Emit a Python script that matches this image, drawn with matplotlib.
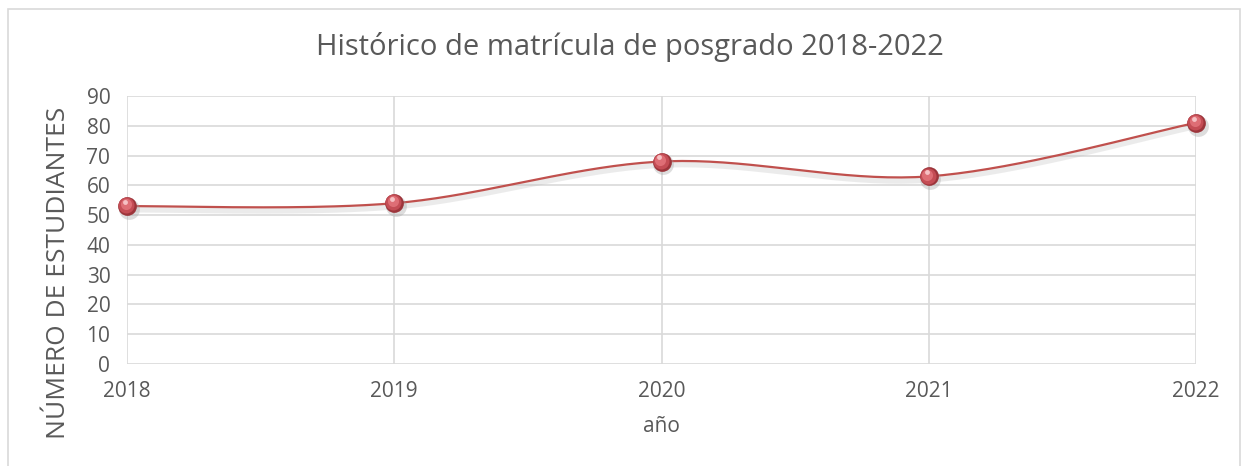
import matplotlib.pyplot as plt
from matplotlib.patches import Rectangle
import numpy as np

# Data
years = [2018, 2019, 2020, 2021, 2022]
students = [53, 54, 68, 63, 81]
y_ticks = list(range(0, 100, 10))

title = 'Histórico de matrícula de posgrado 2018-2022'
x_label = 'año'
y_label = 'NÚMERO DE ESTUDIANTES'

text_color = '#595959'
grid_color = '#d9d9d9'
line_color = '#c0504d'


def smooth(xs, ys, n=40):
    # Catmull-Rom style smoothing, similar to Excel's smoothed line
    xs = np.asarray(xs, float)
    ys = np.asarray(ys, float)
    px = np.concatenate([[xs[0]], xs, [xs[-1]]])
    py = np.concatenate([[ys[0]], ys, [ys[-1]]])
    out_x, out_y = [], []
    t = np.linspace(0, 1, n)
    for i in range(1, len(px) - 2):
        p0, p1, p2, p3 = (np.array([px[j], py[j]]) for j in (i - 1, i, i + 1, i + 2))
        c1 = p1 + (p2 - p0) / 6
        c2 = p2 - (p3 - p1) / 6
        pts = ((1 - t) ** 3)[:, None] * p1 + (3 * (1 - t) ** 2 * t)[:, None] * c1 \
            + (3 * (1 - t) * t ** 2)[:, None] * c2 + (t ** 3)[:, None] * p2
        out_x.extend(pts[:, 0])
        out_y.extend(pts[:, 1])
    return np.array(out_x), np.array(out_y)


plt.rcParams['font.family'] = ['Open Sans', 'DejaVu Sans']

fig = plt.figure(figsize=(12.49, 4.66), dpi=100)
fig.patches.append(Rectangle((8 / 1249, -0.05), 1232 / 1249, 1 - 9 / 466 + 0.05,
                             transform=fig.transFigure, fill=False,
                             edgecolor=grid_color, linewidth=1.2))

ax = fig.add_axes([127 / 1249, 1 - 364 / 466, (1196 - 127) / 1249, (364 - 96) / 466])

sx, sy = smooth(years, students)
# faint shadow below the line
ax.plot(sx, sy - 1.2, color='#bfbfbf', linewidth=4, alpha=0.3, zorder=2)
ax.plot(sx, sy, color=line_color, linewidth=1.6, zorder=3)

# sphere-like markers (layered circles)
kw = dict(linestyle='none', marker='o', markeredgewidth=0, clip_on=False)
yr = np.array(years, float)
st = np.array(students, float)
ax.plot(yr + 0.006, st - 1.0, markersize=15, color='#a0a0a0', alpha=0.35, zorder=4, **kw)
ax.plot(yr, st, markersize=13.5, color='#9c353b', zorder=5, **kw)
ax.plot(yr - 0.003, st + 0.3, markersize=11.5, color='#c44d55', zorder=6, **kw)
ax.plot(yr - 0.005, st + 0.6, markersize=8, color='#de6e75', zorder=7, **kw)
ax.plot(yr - 0.008, st + 1.4, markersize=3.5, color='#f6c1c4', zorder=8, **kw)

ax.set_xlim(years[0], years[-1])
ax.set_ylim(0, 90)
ax.set_xticks(years)
ax.set_yticks(y_ticks)
ax.grid(True, color=grid_color, linewidth=1.2)
ax.set_axisbelow(True)
for s in ax.spines.values():
    s.set_visible(False)
ax.tick_params(length=0, labelsize=15, labelcolor=text_color, pad=12)
ax.tick_params(axis='x', pad=12)

# title is centred on the whole chart, not on the plot area
fig.text(630 / 1249, 1 - 47 / 466, title, fontsize=21, color=text_color,
         ha='center', va='center')
ax.set_xlabel(x_label, fontsize=15, color=text_color, labelpad=10)
ax.set_ylabel(y_label, fontsize=19, color=text_color)
ax.yaxis.set_label_coords(-0.052, 0.34)

fig.savefig('out.png', dpi=100)
